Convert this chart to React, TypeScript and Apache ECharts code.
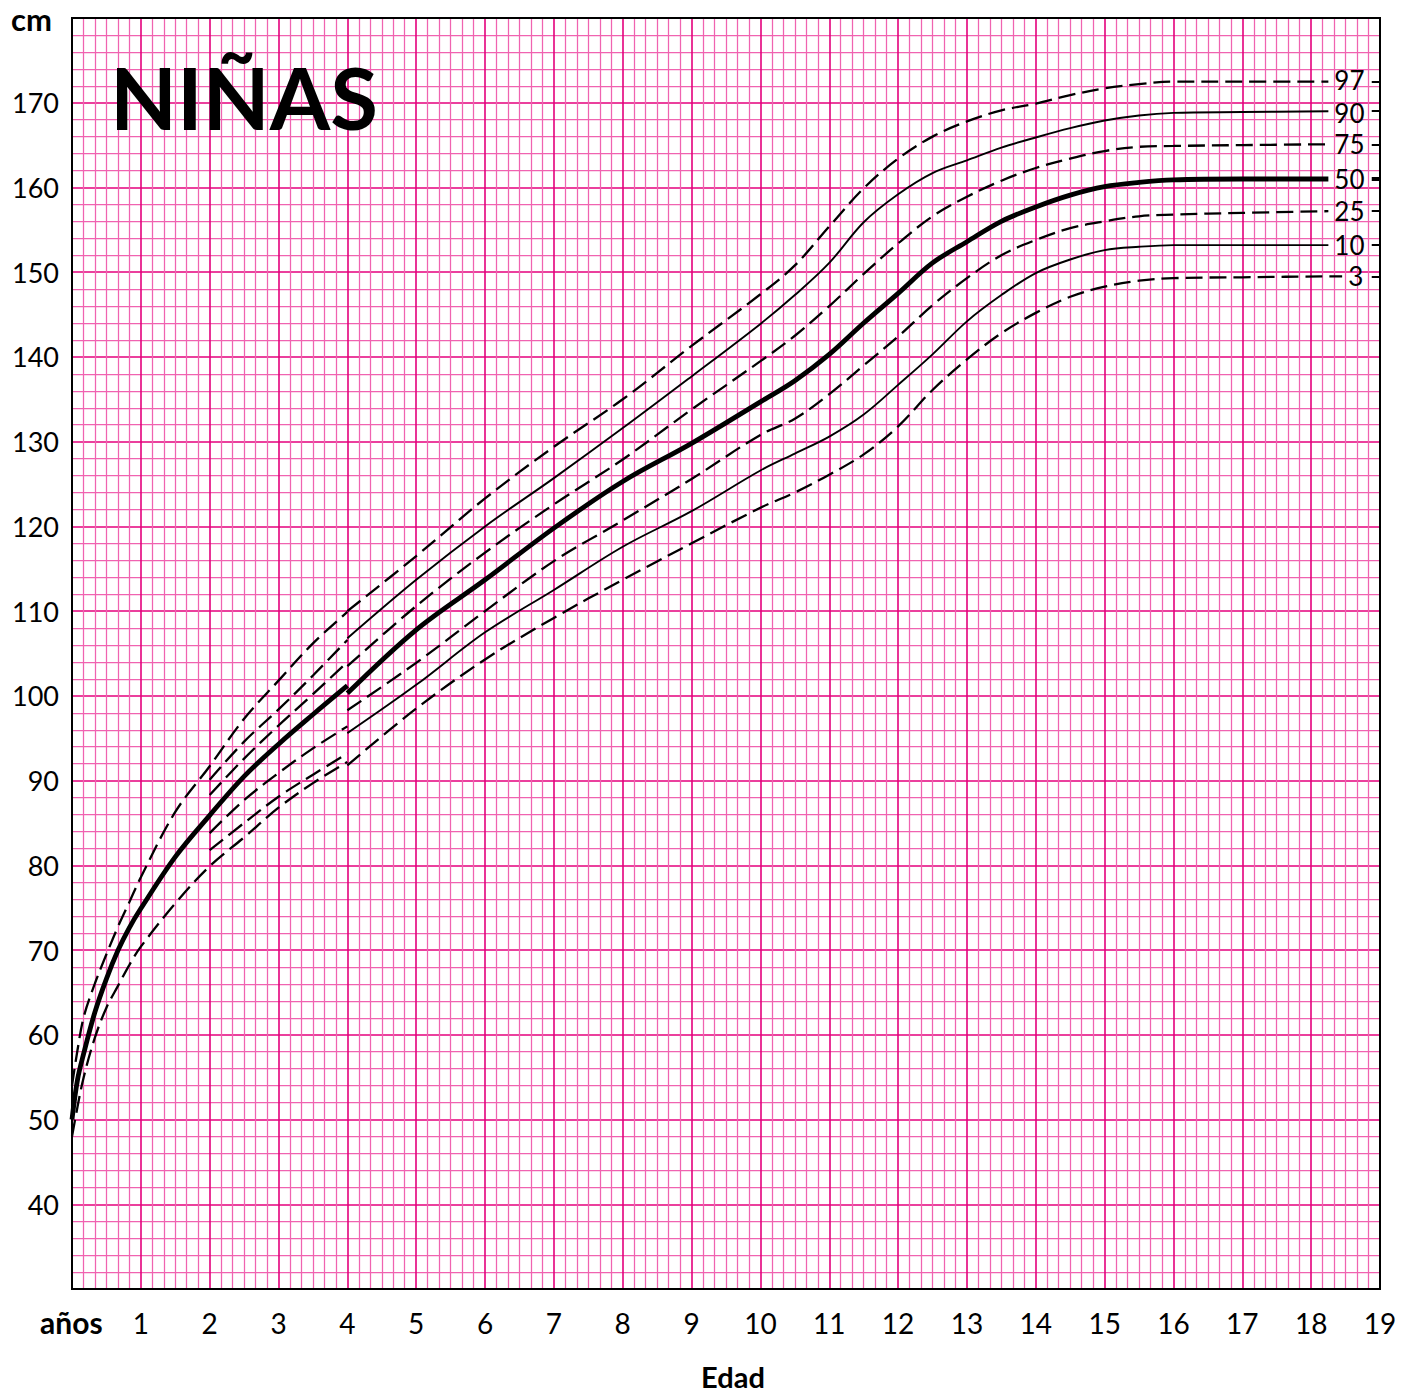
import React, { useEffect, useRef } from 'react';
import * as echarts from 'echarts';

// ---- data (age in years, height in cm) ----
const AGES_EARLY = [0, 0.08, 0.17, 0.33, 0.5, 0.67, 0.83, 1, 1.5, 2, 2.5, 3, 3.5, 4];
const P97_EARLY = [54.0, 58.2, 62.1, 66.0, 69.5, 72.8, 75.6, 78.6, 86.3, 91.7, 97.3, 101.8, 106.2, 109.9];
const P50_EARLY = [50.0, 54.7, 57.8, 62.6, 66.6, 70.0, 72.6, 74.9, 81.0, 85.9, 90.5, 94.3, 97.8, 101.2];
const P3_EARLY = [48.0, 51.5, 55.0, 59.6, 63.2, 65.8, 68.2, 70.4, 75.5, 79.9, 83.3, 86.8, 89.7, 92.2];

const AGES_MID = [2, 2.5, 3, 3.5, 4];
const P90_MID = [90.1, 94.6, 98.4, 102.4, 106.6];
const P75_MID = [88.3, 92.6, 96.5, 100.2, 104.0];
const P25_MID = [83.8, 87.7, 90.9, 93.8, 96.4];
const P10_MID = [81.8, 85.0, 88.1, 90.7, 93.2];

const AGES_LATE = [4, 5, 6, 7, 8, 9, 10, 10.5, 11, 11.5, 12, 12.5, 13, 13.5, 14, 14.5, 15, 15.5, 16, 17, 18.25];
const P97_LATE = [110.0, 116.5, 123.3, 129.4, 135.0, 141.3, 147.4, 150.8, 155.4, 159.9, 163.4, 166.0, 167.8, 169.1, 169.9, 170.9, 171.7, 172.2, 172.5, 172.5, 172.5];
const P90_LATE = [106.8, 113.7, 120.0, 125.7, 131.6, 137.7, 143.9, 147.3, 151.1, 155.9, 159.2, 161.7, 163.2, 164.7, 165.9, 167.0, 167.9, 168.5, 168.8, 168.9, 169.0];
const P75_LATE = [103.5, 110.6, 116.9, 122.6, 127.9, 133.8, 139.5, 142.5, 146.0, 149.8, 153.4, 156.6, 158.9, 160.8, 162.3, 163.4, 164.3, 164.8, 164.9, 165.0, 165.1];
const P50_LATE = [100.3, 107.8, 113.7, 119.8, 125.3, 129.8, 134.7, 137.2, 140.3, 144.0, 147.5, 151.1, 153.6, 156.0, 157.7, 159.1, 160.1, 160.6, 160.9, 161.0, 161.0];
const P25_LATE = [98.3, 103.9, 110.0, 115.9, 120.7, 125.6, 130.8, 132.7, 135.6, 139.0, 142.4, 146.1, 149.3, 152.0, 153.8, 155.2, 156.0, 156.6, 156.8, 157.0, 157.2];
const P10_LATE = [95.6, 101.3, 107.5, 112.5, 117.6, 121.8, 126.6, 128.6, 130.6, 133.2, 136.7, 140.3, 144.2, 147.3, 149.9, 151.5, 152.6, 153.0, 153.2, 153.2, 153.2];
const P3_LATE = [91.8, 98.5, 104.3, 109.2, 113.7, 118.0, 122.2, 124.0, 126.1, 128.5, 131.8, 136.1, 139.7, 142.8, 145.2, 147.1, 148.3, 149.0, 149.3, 149.4, 149.5];
const P3_EXTRA_AGE = 18.45;

const PERCENTILE_NAMES = ['97', '90', '75', '50', '25', '10', '3'];
const X_MIN = 0, X_MAX = 19, Y_MIN = 30, Y_MAX = 180;
const TICK_START_AGE = 18.88;

// ---- layout ----
const W = 1419, H = 1393;
const G_LEFT = 72, G_TOP = 18, G_W = 1308, G_H = 1271;
const FONT = 'Lato, "Open Sans", sans-serif';
const LABEL_NUDGE: Record<string, number> = { '97': -2, '90': 2 };

const pairs = (ages: number[], vals: number[]) => ages.map((a, i) => [a, vals[i]]);

const DASH = [17, 7];

function buildSeries() {
  const base = {
    type: 'line',
    showSymbol: false,
    symbol: 'none',
    smooth: 0.35,
    silent: true,
    z: 5,
  };
  const dashed = { type: DASH, width: 2.3, color: '#000', cap: 'butt' };
  const solid = { type: 'solid', width: 1.9, color: '#000' };
  const thick = { type: 'solid', width: 4.8, color: '#000' };

  const early: any[] = [
    { ...base, name: '97e', data: pairs(AGES_EARLY, P97_EARLY), lineStyle: dashed },
    { ...base, name: '50e', data: pairs(AGES_EARLY, P50_EARLY), lineStyle: thick },
    { ...base, name: '3e', data: pairs(AGES_EARLY, P3_EARLY), lineStyle: dashed },
    { ...base, name: '90m', data: pairs(AGES_MID, P90_MID), lineStyle: dashed },
    { ...base, name: '75m', data: pairs(AGES_MID, P75_MID), lineStyle: dashed },
    { ...base, name: '25m', data: pairs(AGES_MID, P25_MID), lineStyle: dashed },
    { ...base, name: '10m', data: pairs(AGES_MID, P10_MID), lineStyle: dashed },
  ];

  const lateVals = [P97_LATE, P90_LATE, P75_LATE, P50_LATE, P25_LATE, P10_LATE, P3_LATE];
  const lateStyles = [dashed, solid, dashed, thick, dashed, solid, dashed];
  const late = PERCENTILE_NAMES.map((name, i) => {
    const vals = lateVals[i];
    const data = pairs(AGES_LATE, vals);
    const last = vals[vals.length - 1];
    if (name === '3') data.push([P3_EXTRA_AGE, last]);
    return {
      ...base,
      name,
      data,
      lineStyle: lateStyles[i],
      endLabel: {
        show: true,
        formatter: name,
        color: '#000',
        fontSize: 26,
        lineHeight: 24,
        fontFamily: FONT,
        distance: 6,
        offset: [0, LABEL_NUDGE[name] || 0],
      },
      markLine: {
        silent: true,
        symbol: ['none', 'none'],
        label: { show: false },
        lineStyle: { type: 'solid', color: '#000', width: name === '50' ? 4 : 2 },
        data: [[{ coord: [TICK_START_AGE, last] }, { coord: [X_MAX, last] }]],
      },
    };
  });
  return [...early, ...late];
}

export default function App() {
  const ref = useRef<HTMLDivElement>(null);
  useEffect(() => {
    if (!ref.current) return;
    const chart = echarts.init(ref.current, null, { renderer: 'svg' });
    const major = '#e4007c';
    const minor = '#f063b0';
    chart.setOption({
      animation: false,
      backgroundColor: '#fff',
      grid: { left: G_LEFT, top: G_TOP, width: G_W, height: G_H, containLabel: false },
      xAxis: {
        type: 'value',
        min: X_MIN,
        max: X_MAX,
        interval: 1,
        axisLine: { show: true, lineStyle: { color: '#000', width: 2 } },
        axisTick: { show: false },
        minorTick: { show: true, splitNumber: 6, length: 0 },
        splitLine: { show: true, lineStyle: { color: major, width: 1.6 } },
        minorSplitLine: { show: true, lineStyle: { color: minor, width: 1.25 } },
        axisLabel: {
          margin: 20,
          fontSize: 28,
          fontFamily: FONT,
          color: '#000',
          formatter: (v: number) => (v === 0 ? '' : String(v)),
        },
      },
      yAxis: {
        type: 'value',
        min: Y_MIN,
        max: Y_MAX,
        interval: 10,
        axisLine: { show: true, lineStyle: { color: '#000', width: 2 } },
        axisTick: { show: false },
        minorTick: { show: true, splitNumber: 5, length: 0 },
        splitLine: { show: true, lineStyle: { color: major, width: 1.6 } },
        minorSplitLine: { show: true, lineStyle: { color: minor, width: 1.25 } },
        axisLabel: {
          margin: 13,
          fontSize: 27,
          fontFamily: FONT,
          color: '#000',
          formatter: (v: number) => (v === Y_MIN || v === Y_MAX ? '' : String(v)),
        },
      },
      graphic: [
        {
          type: 'rect',
          z: 100,
          silent: true,
          shape: { x: G_LEFT, y: G_TOP, width: G_W, height: G_H },
          style: { fill: 'none', stroke: '#000', lineWidth: 2 },
        },
        {
          type: 'text',
          z: 101,
          style: { x: 110, y: 96, text: 'NIÑAS', font: `bold 87px ${FONT}`, fill: '#000', verticalAlign: 'middle' },
        },
        {
          type: 'text',
          z: 101,
          style: { x: 11, y: 19, text: 'cm', font: `bold 31px ${FONT}`, fill: '#000', verticalAlign: 'middle' },
        },
        {
          type: 'text',
          z: 101,
          style: { x: 40, y: 1322, text: 'años', font: `bold 30px ${FONT}`, fill: '#000', verticalAlign: 'middle' },
        },
        {
          type: 'text',
          z: 101,
          style: { x: 733, y: 1376, text: 'Edad', font: `bold 29px ${FONT}`, lineHeight: 28, fill: '#000', align: 'center', verticalAlign: 'middle' },
        },
      ],
      series: buildSeries(),
    });
    return () => chart.dispose();
  }, []);
  return <div ref={ref} style={{ position: 'absolute', left: 0, top: 0, width: W, height: H }} />;
}
